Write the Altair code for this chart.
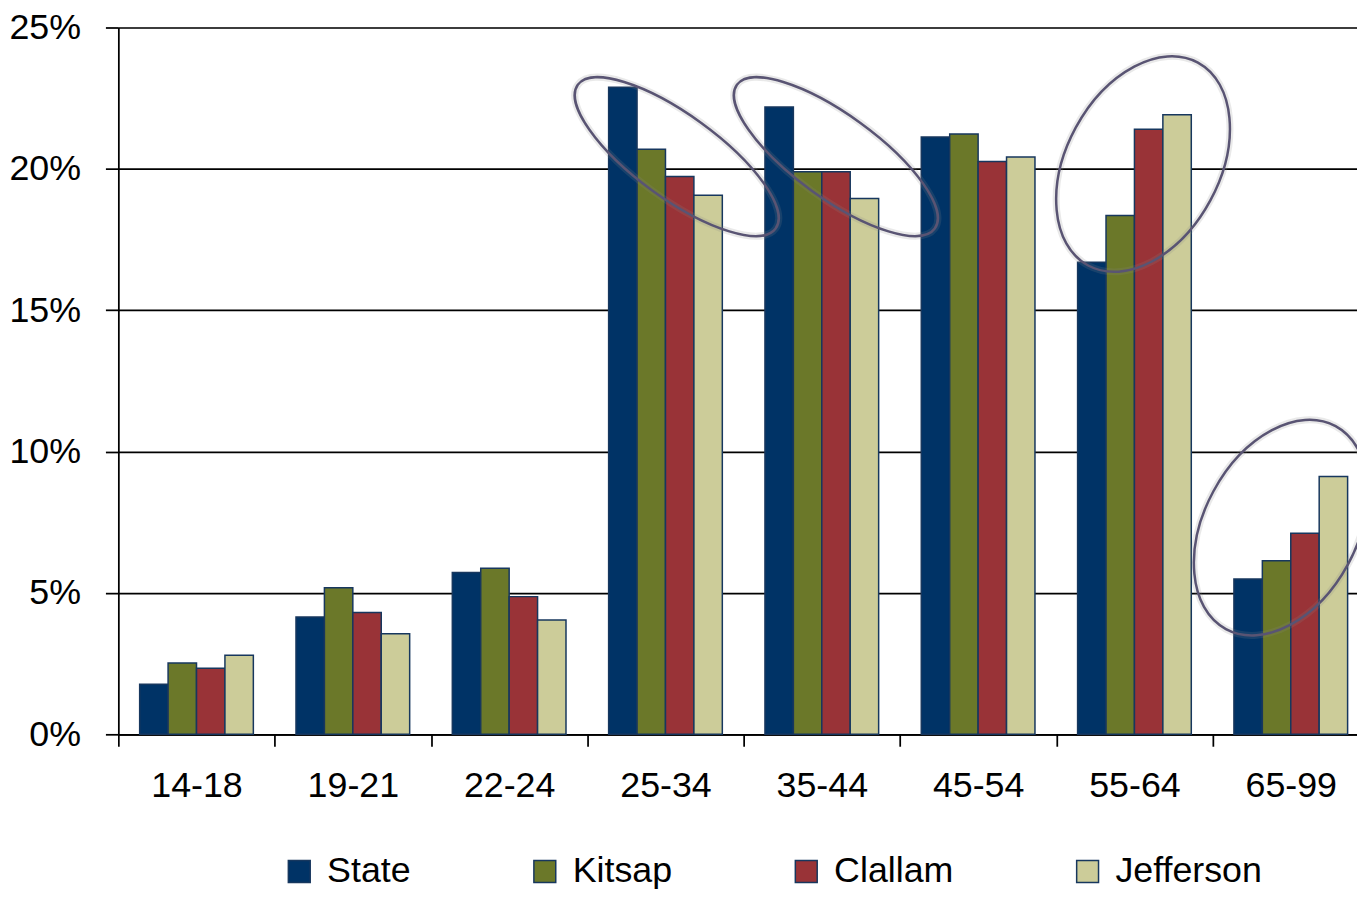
import altair as alt
import pandas as pd

ages = ["14-18", "19-21", "22-24", "25-34", "35-44", "45-54", "55-64", "65-99"]
series = ["State", "Kitsap", "Clallam", "Jefferson"]
state = [1.77, 4.15, 5.72, 22.89, 22.19, 21.13, 16.70, 5.49]
kitsap = [2.52, 5.18, 5.87, 20.69, 19.90, 21.23, 18.35, 6.14]
clallam = [2.34, 4.31, 4.87, 19.73, 19.90, 20.26, 21.40, 7.11]
jefferson = [2.80, 3.56, 4.04, 19.07, 18.95, 20.42, 21.91, 9.12]
colors = ["#003366", "#6B7829", "#993337", "#CCCC99"]
y_ticks = [0, 5, 10, 15, 20, 25]

# annotation ellipses: centre (category index, percent), rotation, semi-axes (px)
ell_cx = [3.572, 4.590, 6.555, 7.436]
ell_cy = [20.43, 20.43, 20.17, 7.31]
ell_angle = [36.0, 36.0, 118.4, 118.4]
ell_a = [123, 123, 116, 116]
ell_b = [42, 42, 77, 77]

FONT = "Liberation Sans, Arial, sans-serif"
FS = 36

rows = []
for name, vals in zip(series, [state, kitsap, clallam, jefferson]):
    for age, v in zip(ages, vals):
        rows.append({"age": age, "series": name, "value": v})
df = pd.DataFrame(rows)


def ellipse_path(r):
    k = 0.5523
    return (f"M 1 0 C 1 {k*r:.4f} {k:.4f} {r:.4f} 0 {r:.4f} "
            f"C {-k:.4f} {r:.4f} -1 {k*r:.4f} -1 0 "
            f"C -1 {-k*r:.4f} {-k:.4f} {-r:.4f} 0 {-r:.4f} "
            f"C {k:.4f} {-r:.4f} 1 {-k*r:.4f} 1 0 Z")


ell = pd.DataFrame({
    "cx": ell_cx, "cy": ell_cy, "angle": ell_angle,
    "size": [(2 * a) ** 2 for a in ell_a],
    "shape": [ellipse_path(b / a) for a, b in zip(ell_a, ell_b)],
})

bars = alt.Chart(df).mark_bar(stroke="#17375E", strokeWidth=1.5).encode(
    x=alt.X("age:N", sort=ages,
            scale=alt.Scale(domain=ages, paddingInner=0, paddingOuter=0),
            axis=alt.Axis(title=None, labelAngle=0, tickBand="extent", tickSize=12,
                          tickColor="black", tickWidth=1.75, domainColor="black",
                          domainWidth=1.75, labelPadding=23, labelFontSize=FS,
                          labelFont=FONT, labelColor="black", grid=False)),
    xOffset=alt.XOffset("series:N", sort=series,
                        scale=alt.Scale(domain=series, paddingInner=0, paddingOuter=0.75)),
    y=alt.Y("value:Q", scale=alt.Scale(domain=[0, 25], nice=False),
            axis=alt.Axis(title=None, values=y_ticks, labelExpr="datum.value + '%'",
                          grid=True, gridColor="black", gridWidth=1.75, gridOpacity=1,
                          tickSize=13, tickColor="black", tickWidth=1.75,
                          domainColor="black", domainWidth=1.75, labelPadding=25,
                          labelFontSize=FS, labelFont=FONT, labelColor="black")),
    color=alt.Color("series:N", sort=series,
                    scale=alt.Scale(domain=series, range=colors),
                    legend=alt.Legend(title=None, orient="none", legendX=164, legendY=831,
                                      direction="horizontal", symbolType="square",
                                      symbolSize=484, symbolStrokeColor="#17375E",
                                      symbolStrokeWidth=1.5, symbolOpacity=1,
                                      labelFontSize=FS, labelFont=FONT, labelColor="black",
                                      labelOffset=10, columnPadding=116, padding=0)),
)

xq = alt.X("cx:Q", scale=alt.Scale(domain=[0, 8], nice=False, zero=False), axis=None)
yq = alt.Y("cy:Q")

shadow = alt.Chart(ell).mark_point(filled=False, stroke="#888888", strokeWidth=7,
                                   opacity=0.18).encode(
    x=xq, y=yq,
    angle=alt.Angle("angle:Q", scale=None),
    size=alt.Size("size:Q", scale=None),
    shape=alt.Shape("shape:N", scale=None),
)

ellipses = alt.Chart(ell).mark_point(filled=False, stroke="#595473", strokeWidth=2.5,
                                     opacity=1).encode(
    x=xq, y=yq,
    angle=alt.Angle("angle:Q", scale=None),
    size=alt.Size("size:Q", scale=None),
    shape=alt.Shape("shape:N", scale=None),
)

chart = alt.layer(bars, shadow, ellipses).resolve_scale(x="independent").properties(
    width=1258, height=711,
    padding={"left": 111, "top": 17, "right": -12, "bottom": 154},
    autosize=alt.AutoSizeParams(type="none"),
).configure_view(strokeWidth=0).configure(background="white")

chart.save("out.html", embed_options={"renderer": "svg", "actions": False})
